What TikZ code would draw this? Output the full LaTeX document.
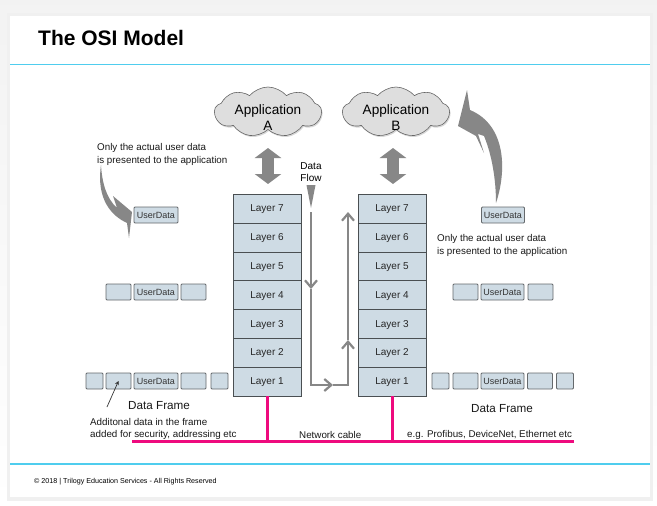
\documentclass[tikz,border=0pt]{standalone}
\usepackage{fontspec}
\setmainfont{Liberation Sans}
\usetikzlibrary{arrows.meta, shapes.symbols, shadows}
\definecolor{pagegrey}{HTML}{EAEAEA}
\definecolor{rulecyan}{HTML}{4FCDEE}
\definecolor{cablepink}{HTML}{EE0A7E}
\definecolor{layerblue}{HTML}{CEDBE4}
\definecolor{edgegrey}{HTML}{4A4F52}
\definecolor{flowgrey}{HTML}{878787}
\tikzset{
	layerbox/.style={shape=rectangle, draw=edgegrey, line width=0.9pt, fill=layerblue, minimum width=68pt, minimum height=29pt, inner sep=0pt, text height=8pt, text depth=1.8pt, font=\fontsize{10}{12}\selectfont, text=black!85},
	framebox/.style={shape=rectangle, draw=edgegrey!85, line width=0.8pt, rounded corners=1pt, fill=layerblue, minimum height=16pt, inner sep=0pt, font=\fontsize{9}{10}\selectfont, text=black!80},
	appcloud/.style={shape=cloud, cloud puffs=9, cloud puff arc=100, shape border rotate=90, aspect=2.2, draw=black!60, line width=0.6pt, fill=black!13, inner sep=0pt, minimum width=107pt, minimum height=50pt, drop shadow={shadow xshift=1pt, shadow yshift=-1.5pt, fill=black!30}},
	applabel/.style={align=center, inner sep=0pt, font=\fontsize{13.6}{16}\selectfont},
	caption/.style={anchor=west, align=left, inner sep=0pt, font=\fontsize{9.8}{13}\selectfont, text=black!90},
	bigarrow/.style={draw=flowgrey, line width=12pt, {Triangle[width=26pt,length=10pt]}-{Triangle[width=26pt,length=10pt]}},
	flowline/.style={draw=flowgrey, line width=1.6pt},
	flowtip/.style={flowline, -{Straight Barb[width=12pt,length=7pt,line width=2.2pt]}}
}
\begin{document}
\begin{tikzpicture}[x=1pt, y=-1pt]
	\useasboundingbox (0,0) rectangle (657,506);
	% Sheet and rules:
	\shade[top color=pagegrey!60, bottom color=pagegrey!110!black] (0,0) rectangle (657,506);
	\fill[black!6] (7,13) rectangle (653,501);
	\fill[white] (10,16) rectangle (650,497);
	\coordinate (ruleTopL) at (10,64.5);
	\coordinate (ruleTopR) at (650,64.5);
	\coordinate (ruleBotL) at (10,464);
	\coordinate (ruleBotR) at (650,464);
	\draw[rulecyan, line width=1pt] (ruleTopL) -- (ruleTopR);
	\draw[rulecyan, line width=1.5pt] (ruleBotL) -- (ruleBotR);
	\node[anchor=west, inner sep=0pt, font=\fontsize{21}{25}\selectfont\bfseries] (title) at (38,37.5){The OSI Model};
	\node[anchor=west, inner sep=0pt, font=\fontsize{7.15}{9}\selectfont] (footer) at (34,482){© 2018 | Trilogy Education Services - All Rights Reserved};

	% Applications:
	\node[appcloud] (appA) at (268,112){};
	\node[appcloud] (appB) at (396,112){};
	\node[applabel] (appAtext) at ([yshift=-6pt]appA.center){Application\\A};
	\node[applabel] (appBtext) at ([yshift=-6pt]appB.center){Application\\B};

	% Layer stacks:
	\node[layerbox] (a7) at (267,208.5){Layer 7};
	\node[layerbox] (a6) at (267,237.5){Layer 6};
	\node[layerbox] (a5) at (267,266.5){Layer 5};
	\node[layerbox] (a4) at (267,295){Layer 4};
	\node[layerbox] (a3) at (267,324){Layer 3};
	\node[layerbox] (a2) at (267,352.5){Layer 2};
	\node[layerbox] (a1) at (267,381.5){Layer 1};
	\node[layerbox] (b7) at (392,208.5){Layer 7};
	\node[layerbox] (b6) at (392,237.5){Layer 6};
	\node[layerbox] (b5) at (392,266.5){Layer 5};
	\node[layerbox] (b4) at (392,295){Layer 4};
	\node[layerbox] (b3) at (392,324){Layer 3};
	\node[layerbox] (b2) at (392,352.5){Layer 2};
	\node[layerbox] (b1) at (392,381.5){Layer 1};

	\coordinate (arrowAtop) at (268,148);
	\coordinate (arrowAbot) at (268,184);
	\coordinate (arrowBtop) at (393,148);
	\coordinate (arrowBbot) at (393,184);
	\draw[bigarrow] (arrowAtop) -- (arrowAbot);
	\draw[bigarrow] (arrowBtop) -- (arrowBbot);

	% Frames, left side:
	\node[framebox, minimum width=44pt] (userA1) at (156,215){UserData};
	\node[framebox, minimum width=25pt] (midAl) at (118.5,292){};
	\node[framebox, minimum width=44pt] (userA2) at (156,292){UserData};
	\node[framebox, minimum width=25pt] (midAr) at (193.5,292){};
	\node[framebox, minimum width=17pt] (lowAll) at (94.5,381){};
	\node[framebox, minimum width=25pt] (lowAl) at (118.5,381){};
	\node[framebox, minimum width=44pt] (userA3) at (156,381){UserData};
	\node[framebox, minimum width=25pt] (lowAr) at (193.5,381){};
	\node[framebox, minimum width=17pt] (lowArr) at (219.5,381){};

	% Frames, right side:
	\node[framebox, minimum width=43pt] (userB1) at (503,215){UserData};
	\node[framebox, minimum width=25pt] (midBl) at (465.5,292){};
	\node[framebox, minimum width=43pt] (userB2) at (502.5,292){UserData};
	\node[framebox, minimum width=25pt] (midBr) at (540.5,292){};
	\node[framebox, minimum width=17pt] (lowBll) at (440.5,381){};
	\node[framebox, minimum width=25pt] (lowBl) at (465.5,381){};
	\node[framebox, minimum width=43pt] (userB3) at (502.5,381){UserData};
	\node[framebox, minimum width=25pt] (lowBr) at (540,381){};
	\node[framebox, minimum width=17pt] (lowBrr) at (565,381){};

	% Curved arrows:
	\fill[flowgrey] (101,165) .. controls (102,182) and (106,198) .. (117,208) -- (113,196) -- (132,212) -- (129,238) -- (127,223) .. controls (112,216) and (96,200) .. (101,165) -- cycle;
	\fill[flowgrey] (496,203) .. controls (507,170) and (506,125) .. (470,110) -- (467,90) -- (458,126) -- (476,136) -- (484,153) -- (478,134) -- (484,136) .. controls (492,155) and (496,180) .. (496,203) -- cycle;

	% Data flow:
	\node[font=\fontsize{10}{12.5}\selectfont, align=center, inner sep=0pt] (flowLabel) at (311,172){Data\\Flow};
	\fill[flowgrey] (306.5,185) -- (315.5,185) -- (311,208) -- cycle;
	\coordinate (fdTop) at (311,212);
	\coordinate (fdMid) at (311,289);
	\coordinate (fdLow) at (311,385);
	\coordinate (fdOut) at (333,385);
	\coordinate (fuLow) at (348,385);
	\coordinate (fuMid) at (348,340);
	\coordinate (fuTop) at (348,212);
	\draw[flowtip] (fdTop) -- (fdMid);
	\draw[flowtip] (fdMid) -- (fdLow) -- (fdOut);
	\draw[flowtip] (fdOut) -- (fuLow) -- (fuMid);
	\draw[flowtip] (fuMid) -- (fuTop);

	% Network cable:
	\coordinate (cableL) at (132,441);
	\coordinate (cableR) at (574,441);
	\draw[cablepink, line width=3pt] (cableL) -- (cableR);
	\draw[cablepink, line width=3pt] (a1.south) -- (a1.south |- cableL);
	\draw[cablepink, line width=3pt] (b1.south) -- (b1.south |- cableL);

	% Captions:
	\node[caption] (onlyA) at (97,154.5){Only the actual user data\\is presented to the application};
	\node[caption] (onlyB) at (437,245.5){Only the actual user data\\is presented to the application};
	\node[caption, font=\fontsize{11.7}{14}\selectfont] (frameA) at (128,406){Data Frame};
	\node[caption, font=\fontsize{11.7}{14}\selectfont] (frameB) at (471,409){Data Frame};
	\node[caption, font=\fontsize{9.8}{12}\selectfont] (extra) at (90,428.5){Additonal data in the frame\\added for security, addressing etc};
	\node[caption] (cable) at (299,434.5){Network cable};
	\node[caption] (busses) at (407,434.5){e.g. Profibus, DeviceNet, Ethernet etc};
	\coordinate (ptrStart) at (107,407);
	\draw[black!80, line width=0.7pt, -{Stealth[width=4pt,length=4pt]}] (ptrStart) -- (lowAl.center);
\end{tikzpicture}
\end{document}
